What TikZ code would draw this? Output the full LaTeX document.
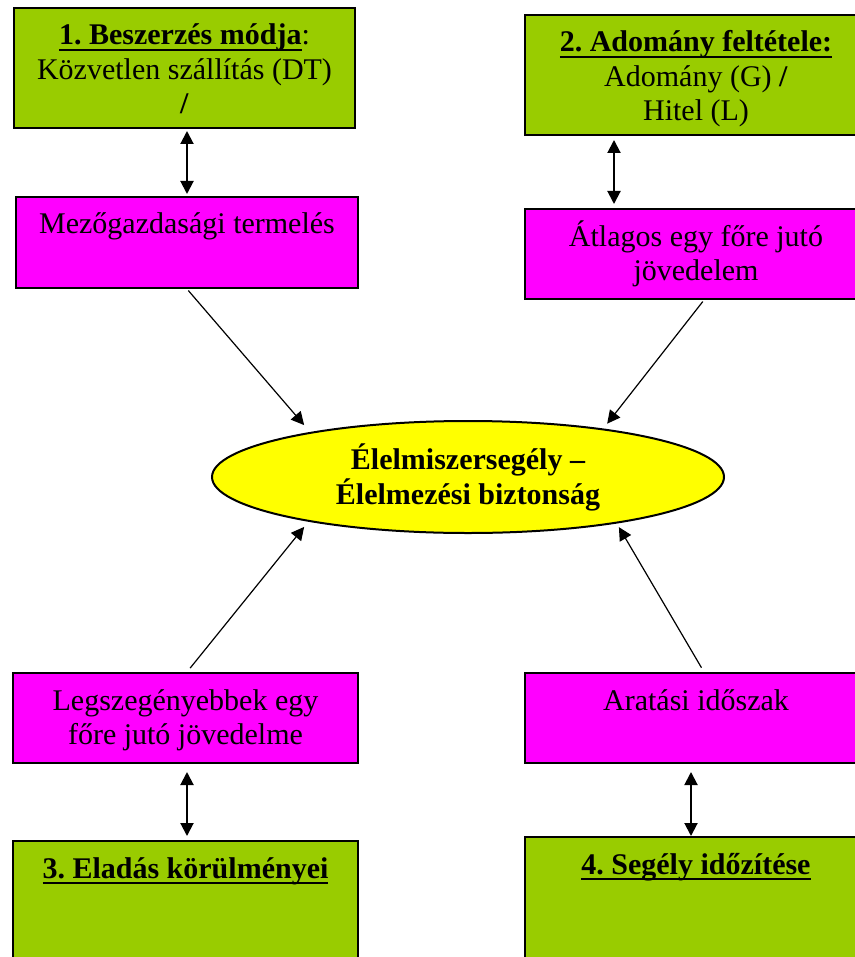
\documentclass[tikz,border=0pt]{standalone}
\usepackage{fontspec}
\setmainfont{Liberation Serif}
\usetikzlibrary{arrows.meta,shapes.geometric}
\definecolor{cgreen}{RGB}{153,204,0}
\definecolor{cpink}{RGB}{255,0,255}
\definecolor{cyellow}{RGB}{255,255,0}
\frenchspacing
\newcommand{\boxtext}[3]{\parbox[t][#2][t]{#1}{\centering\rule{0pt}{18.5pt}#3}}
\newcommand{\undl}[1]{\setbox0\hbox{\textbf{#1}}\rlap{\rule[-3.2pt]{\wd0}{1.2pt}}\box0}

\begin{document}
\begin{tikzpicture}[x=0.5pt,y=-0.5pt,>={Triangle[length=6.5pt,width=6.5pt]},
  box node/.style={rectangle,draw,line width=1pt,inner sep=0pt,anchor=north west,
    font=\fontsize{15}{17.25}\selectfont},
  green node/.style={box node,fill=cgreen},
  pink node/.style={box node,fill=cpink},
  main node/.style={ellipse,draw,fill=cyellow,line width=1pt,inner sep=0pt,
    minimum width=256pt,minimum height=56pt,align=center,
    font=\bfseries\fontsize{15}{17.5}\selectfont}]
  \useasboundingbox (0,0) rectangle (855,957);
  \clip (0,0) rectangle (855,957);

  \node[main node] (c) at (468,477) {Élelmiszersegély –\\Élelmezési biztonság};

  \node[green node] (1) at (13,7) {\boxtext{170.5pt}{60pt}{\undl{1. Beszerzés módja}:\\Közvetlen szállítás (DT)\\\textbf{/}}};
  \node[green node] (2) at (524,14) {\boxtext{171pt}{60pt}{\undl{2. Adomány feltétele:}\\Adomány (G) \textbf{/}\\Hitel (L)}};
  \node[green node] (3) at (12,840) {\boxtext{172.5pt}{65pt}{\undl{3. Eladás körülményei}}};
  \node[green node] (4) at (524,836) {\boxtext{171pt}{65pt}{\undl{4. Segély időzítése}}};

  \node[pink node] (p1) at (15,196) {\boxtext{171pt}{45.5pt}{Mezőgazdasági termelés}};
  \node[pink node] (p2) at (524,208) {\boxtext{171pt}{45pt}{Átlagos egy főre jutó\\jövedelem}};
  \node[pink node] (p3) at (12,672) {\boxtext{172.5pt}{45pt}{Legszegényebbek egy\\főre jutó jövedelme}};
  \node[pink node] (p4) at (524,672) {\boxtext{171pt}{45pt}{Aratási időszak}};

  \path[<->,line width=1pt]
    (1.south -| p1.north) edge[shorten <=1pt,shorten >=1pt] (p1.north)
    ([xshift=45pt]2.south west) edge[shorten <=2pt,shorten >=2pt] ([xshift=45pt]p2.north west)
    ([xshift=87.5pt]p3.south west) edge[shorten <=4pt,shorten >=2pt] ([xshift=87.5pt]3.north west)
    ([xshift=83.5pt]p4.south west) edge[shorten <=4pt] ([xshift=83.5pt]4.north west);

  \path[->,line width=0.6pt]
    (p1.south) edge[shorten <=1pt] ([yshift=4pt]c.165)
    ([xshift=90pt]p2.south west) edge[shorten <=1pt] ([yshift=2.7pt]c.19)
    ([xshift=87.5pt]p3.north west) edge[shorten <=2.5pt] ([yshift=-3pt]c.195)
    ([xshift=90pt]p4.north west) edge[shorten <=2.5pt] ([yshift=-2pt]c.343);
\end{tikzpicture}
\end{document}
